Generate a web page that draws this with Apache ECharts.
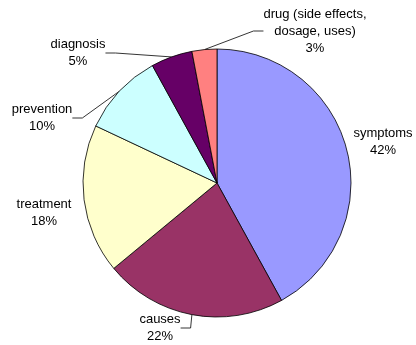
<!DOCTYPE html>
<html>
<head>
<meta charset="utf-8">
<script src="https://cdn.jsdelivr.net/npm/echarts@6/dist/echarts.min.js"></script>
<style>
  html, body { margin: 0; padding: 0; background: #fff; }
  #chart { width: 416px; height: 345px; }
</style>
</head>
<body>
<div id="chart"></div>
<script>
// Topic categories and their shares (percent)
const categories = ['symptoms', 'causes', 'treatment', 'prevention', 'diagnosis', 'drug (side effects,\ndosage, uses)'];
const shares = [42, 22, 18, 10, 5, 3];
const colors = ['#9999FF', '#993366', '#FFFFCC', '#CCFFFF', '#660066', '#FF8080'];
// Which labels are tied to their slice with a leader line
const showLeader = [false, true, false, true, true, true];
// Label anchor points (label centre, px)
const labelSpots = [[383, 142], [160, 328], [44, 213], [42, 118], [78, 53], [315, 31]];

const chart = echarts.init(document.getElementById('chart'));
chart.setOption({
  animation: false,
  series: [{
    type: 'pie',
    center: [217, 183],
    radius: 134,
    startAngle: 90,
    clockwise: true,
    avoidLabelOverlap: false,
    itemStyle: { borderColor: '#000', borderWidth: 0.8 },
    label: {
      show: true,
      position: 'outside',
      formatter: p => p.name + '\n' + p.value + '%',
      fontFamily: 'Liberation Sans, Arial, sans-serif',
      fontSize: 13,
      lineHeight: 17,
      color: '#000',
      align: 'center'
    },
    labelLine: { show: true, lineStyle: { color: '#000', width: 0.8 }, length: 10, length2: 10 },
    labelLayout: p => ({
      x: labelSpots[p.dataIndex][0],
      y: labelSpots[p.dataIndex][1],
      align: 'center',
      verticalAlign: 'middle'
    }),
    emphasis: { disabled: true },
    data: categories.map((c, i) => ({
      name: c,
      value: shares[i],
      itemStyle: { color: colors[i] },
      labelLine: { show: showLeader[i] }
    }))
  }]
});
</script>
</body>
</html>
